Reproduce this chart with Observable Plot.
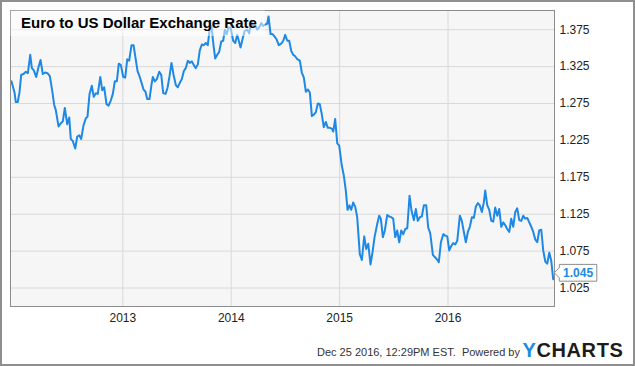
<!DOCTYPE html>
<html>
<head>
<meta charset="utf-8">
<script src="https://cdn.jsdelivr.net/npm/d3@7"></script>
<script src="https://cdn.jsdelivr.net/npm/@observablehq/plot@0.6"></script>
<style>
html,body{margin:0;padding:0;background:#fff;}
#chart{width:635px;height:366px;}
</style>
</head>
<body>
<div id="chart"></div>
<script>
const title = "Euro to US Dollar Exchange Rate";
const footerText = "Dec 25 2016, 12:29PM EST.  Powered by";
const logoY = "Y";
const logoRest = "CHARTS";
const lastLabel = "1.045";
const lastLabelValue = 1.045;

const xTicks = [2013, 2014, 2015, 2016];
const yTicks = [1.025, 1.075, 1.125, 1.175, 1.225, 1.275, 1.325, 1.375];

// dates as decimal years
const dates = [
2011.973,2012.001,2012.013,2012.031,2012.047,2012.063,2012.084,2012.105,2012.124,2012.146,
2012.161,2012.179,2012.201,2012.222,2012.241,2012.262,2012.284,2012.305,2012.327,2012.349,
2012.367,2012.382,2012.407,2012.428,2012.447,2012.465,2012.487,2012.506,2012.520,2012.539,
2012.561,2012.579,2012.598,2012.616,2012.637,2012.659,2012.674,2012.693,2012.714,2012.732,
2012.751,2012.769,2012.792,2012.810,2012.828,2012.850,2012.868,2012.889,2012.908,2012.926,
2012.945,2012.963,2012.982,
2013.004,2013.022,2013.041,2013.059,2013.080,2013.099,2013.117,2013.136,2013.154,2013.173,
2013.191,2013.209,2013.225,2013.246,2013.265,2013.277,2013.295,2013.314,2013.336,2013.354,
2013.373,2013.394,2013.412,2013.431,2013.449,2013.468,2013.489,2013.507,2013.526,2013.544,
2013.563,2013.581,2013.600,2013.618,2013.637,2013.655,2013.673,2013.692,2013.710,2013.729,
2013.747,2013.766,2013.784,2013.803,2013.818,2013.834,2013.852,2013.871,2013.889,2013.908,
2013.926,2013.941,2013.957,2013.975,2013.994,
2014.018,2014.037,2014.055,2014.086,2014.104,2014.123,2014.148,2014.166,2014.185,2014.203,
2014.221,2014.240,2014.258,2014.277,2014.295,2014.314,2014.332,2014.344,2014.363,2014.381,
2014.399,2014.418,2014.439,2014.461,2014.480,2014.498,2014.517,2014.535,2014.554,2014.572,
2014.590,2014.609,2014.633,2014.651,2014.670,2014.688,2014.707,2014.725,2014.744,2014.762,
2014.780,2014.799,2014.817,2014.836,2014.854,2014.873,2014.891,2014.910,2014.928,2014.941,
2014.959,2014.978,2014.996,
2015.020,2015.039,2015.057,2015.073,2015.091,2015.107,2015.125,2015.144,2015.162,2015.186,
2015.205,2015.227,2015.245,2015.264,2015.285,2015.303,2015.322,2015.347,2015.365,2015.380,
2015.399,2015.417,2015.439,2015.458,2015.476,2015.494,2015.513,2015.531,2015.550,2015.568,
2015.587,2015.605,2015.624,2015.645,2015.663,2015.685,2015.703,2015.721,2015.740,2015.758,
2015.777,2015.799,2015.817,2015.836,2015.860,2015.878,2015.897,2015.915,2015.934,2015.956,
2015.974,2015.993,
2016.011,2016.030,2016.048,2016.066,2016.085,2016.109,2016.127,2016.146,2016.164,2016.183,
2016.201,2016.220,2016.238,2016.256,2016.275,2016.293,2016.312,2016.330,2016.343,2016.362,
2016.380,2016.399,2016.417,2016.435,2016.454,2016.472,2016.491,2016.509,2016.528,2016.546,
2016.565,2016.583,2016.601,2016.620,2016.638,2016.657,2016.675,2016.694,2016.712,2016.731,
2016.749,2016.768,2016.786,2016.804,2016.823,2016.841,2016.860,2016.878,2016.897,2016.915,
2016.934,2016.952,2016.970
];

const rates = [
1.305,1.290,1.277,1.277,1.290,1.314,1.315,1.318,1.316,1.341,
1.323,1.320,1.311,1.324,1.334,1.315,1.317,1.316,1.312,1.292,
1.273,1.266,1.244,1.248,1.251,1.269,1.247,1.256,1.227,1.224,
1.214,1.230,1.232,1.227,1.245,1.255,1.257,1.288,1.299,1.284,
1.289,1.288,1.311,1.293,1.297,1.274,1.272,1.279,1.288,1.305,
1.305,1.329,1.327,
1.311,1.310,1.335,1.333,1.354,1.354,1.337,1.319,1.312,1.303,
1.294,1.291,1.281,1.281,1.301,1.311,1.305,1.308,1.318,1.314,
1.289,1.288,1.296,1.312,1.330,1.314,1.300,1.297,1.303,1.308,
1.319,1.323,1.333,1.330,1.332,1.327,1.323,1.328,1.347,1.355,
1.354,1.357,1.354,1.378,1.380,1.357,1.336,1.341,1.345,1.359,
1.360,1.375,1.369,1.378,1.378,
1.360,1.357,1.368,1.351,1.362,1.373,1.375,1.370,1.387,1.380,
1.381,1.375,1.378,1.384,1.380,1.382,1.383,1.393,1.369,1.369,
1.366,1.362,1.354,1.356,1.360,1.368,1.360,1.360,1.346,1.341,
1.339,1.335,1.333,1.317,1.310,1.291,1.294,1.290,1.258,1.260,
1.263,1.275,1.274,1.260,1.243,1.250,1.242,1.242,1.241,1.237,
1.254,1.221,1.218,
1.191,1.177,1.157,1.131,1.137,1.131,1.141,1.135,1.121,1.071,
1.063,1.095,1.078,1.085,1.057,1.073,1.094,1.112,1.123,1.119,
1.094,1.103,1.124,1.122,1.121,1.119,1.094,1.103,1.087,1.103,
1.098,1.105,1.106,1.150,1.130,1.117,1.132,1.116,1.121,1.122,
1.137,1.137,1.107,1.099,1.070,1.067,1.064,1.060,1.087,1.098,
1.096,1.095,
1.076,1.082,1.086,1.084,1.089,1.123,1.116,1.101,1.087,1.101,
1.108,1.121,1.120,1.135,1.140,1.137,1.128,1.141,1.157,1.137,
1.131,1.116,1.115,1.134,1.123,1.132,1.108,1.114,1.110,1.105,
1.101,1.119,1.108,1.128,1.133,1.117,1.116,1.123,1.119,1.120,
1.114,1.108,1.101,1.091,1.087,1.103,1.104,1.076,1.061,1.058,
1.073,1.062,1.037
];

const data = dates.map((d, i) => ({date: d, rate: rates[i]}));

const blue = "#1e88e5";
const font = "Arial, 'Liberation Sans', sans-serif";

const chart = Plot.plot({
  width: 635,
  height: 366,
  marginLeft: 10,
  marginTop: 10,
  marginRight: 81,
  marginBottom: 60,
  style: {fontFamily: font, fontSize: "12px", color: "#222", background: "#fff"},
  x: {type: "linear", domain: [2011.964, 2016.982]},
  y: {domain: [1.0, 1.401]},
  marks: [
    Plot.frame({fill: "#f6f6f6", stroke: null}),
    Plot.gridY(yTicks, {stroke: "#d9d9d9", strokeOpacity: 1}),
    Plot.gridX(xTicks, {stroke: "#d9d9d9", strokeOpacity: 1}),
    Plot.line(data, {x: "date", y: "rate", stroke: blue, strokeWidth: 2}),
    Plot.frame({stroke: "#8c8c8c"}),
    Plot.axisY(yTicks, {anchor: "right", tickSize: 0, tickPadding: 5, tickFormat: d3.format(".3f"), label: null, fontSize: 12, fill: "#222"}),
    Plot.axisX(xTicks, {anchor: "bottom", tickSize: 0, tickPadding: 7, tickFormat: d => String(d), label: null, fontSize: 12, fill: "#222"})
  ]
});

document.getElementById("chart").appendChild(chart);

const svg = d3.select(chart);
const xs = chart.scale("x"), ys = chart.scale("y");

// title box (translucent) and title
svg.append("rect").attr("x", 10.5).attr("y", 10.5).attr("width", 254.5).attr("height", 25.5)
  .attr("fill", "#fff").attr("fill-opacity", 0.5);
svg.append("text").attr("x", 21).attr("y", 28.3).attr("text-anchor", "start")
  .attr("font-family", font).attr("font-size", 15).attr("font-weight", "bold").attr("fill", "#000")
  .text(title);

// last value callout
const tipX = xs.apply(dates[dates.length - 1]) + 1.6;
const cy = ys.apply(lastLabelValue);
const bx0 = tipX + 5, bx1 = tipX + 42.5, h = 8.4;
svg.append("path")
  .attr("d", `M${tipX},${cy} L${bx0},${cy - 5} L${bx0},${cy - h} L${bx1},${cy - h} L${bx1},${cy + h} L${bx0},${cy + h} L${bx0},${cy + 5} Z`)
  .attr("fill", "#fff").attr("stroke", "#8c8c8c").attr("stroke-width", 1);
svg.append("text").attr("x", bx0 + 3.8).attr("y", cy + 4.4).attr("text-anchor", "start")
  .attr("font-family", font).attr("font-size", 12).attr("font-weight", "bold").attr("fill", blue)
  .text(lastLabel);

// footer
svg.append("text").attr("x", 520).attr("y", 356).attr("text-anchor", "end")
  .attr("font-family", font).attr("font-size", 11).attr("fill", "#333")
  .text(footerText);
const logo = svg.append("text").attr("x", 522.5).attr("y", 357).attr("text-anchor", "start")
  .attr("font-family", font).attr("font-size", 20).attr("font-weight", "bold").attr("letter-spacing", 0.6);
logo.append("tspan").attr("fill", "#1a8ce0").text(logoY);
logo.append("tspan").attr("fill", "#1c1c1c").text(logoRest);

// outer border
svg.append("rect").attr("x", 1).attr("y", 1).attr("width", 633).attr("height", 364)
  .attr("fill", "none").attr("stroke", "#8f8f8f").attr("stroke-width", 2);
</script>
</body>
</html>
